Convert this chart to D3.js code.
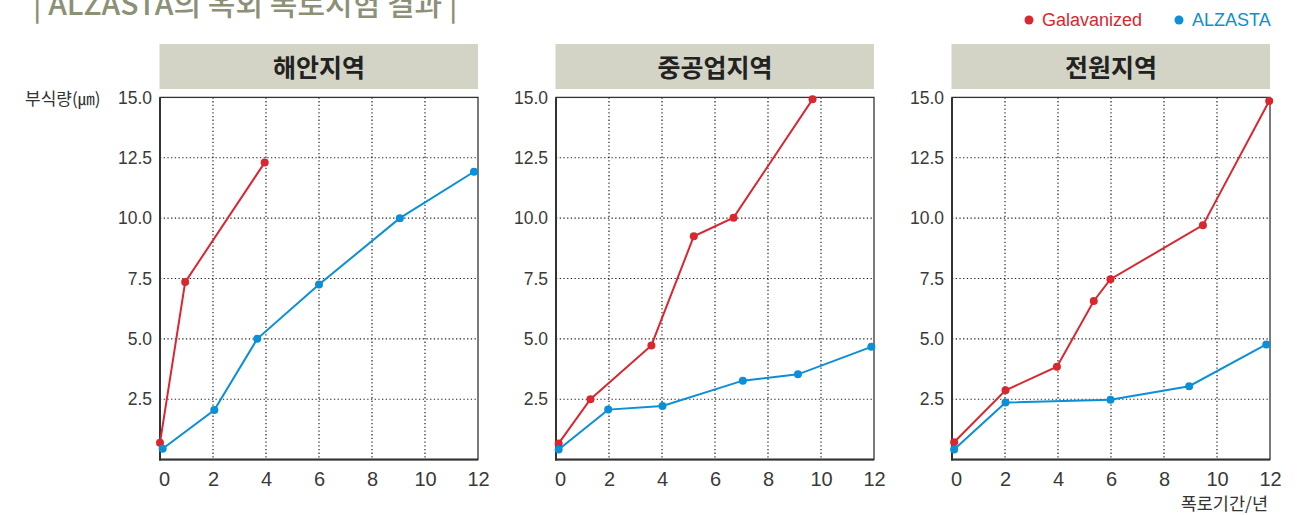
<!DOCTYPE html>
<html><head><meta charset="utf-8">
<script src="https://cdn.jsdelivr.net/npm/d3@7/dist/d3.min.js"></script>
<style>
body{margin:0;background:#fff;}
svg{display:block;}
</style></head>
<body>
<svg id="chart" width="1313" height="515"></svg>
<script>
const panelTitles = ["해안지역", "중공업지역", "전원지역"];
const xTicks = [0, 2, 4, 6, 8, 10, 12];
const yTicks = [2.5, 5.0, 7.5, 10.0, 12.5, 15.0];
const seriesNames = ["Galavanized", "ALZASTA"];

// [year, corrosion µm]
const galvCoastal = [[0,0.7],[0.95,7.35],[3.95,12.3]];
const alzCoastal = [[0.1,0.45],[2.05,2.05],[3.67,5.0],[6.0,7.25],[9.05,10.0],[11.85,11.92]];
const galvIndustrial = [[0.1,0.67],[1.3,2.5],[3.6,4.73],[5.2,9.25],[6.7,10.02],[9.68,14.92]];
const alzIndustrial = [[0.1,0.42],[1.97,2.07],[4.02,2.22],[7.05,3.27],[9.13,3.53],[11.9,4.67]];
const galvRural = [[0.08,0.72],[2.02,2.87],[3.96,3.85],[5.35,6.57],[5.98,7.47],[9.47,9.71],[11.97,14.85]];
const alzRural = [[0.08,0.42],[2.02,2.36],[5.98,2.48],[8.95,3.04],[11.86,4.77]];

const panelData = [
  [galvCoastal, alzCoastal],
  [galvIndustrial, alzIndustrial],
  [galvRural, alzRural]
];
const colors = ["#d9272f", "#0b8fd6"];
const numFont = "'Liberation Sans', Arial, sans-serif";
const krFont = "'Noto Sans CJK KR', 'Noto Sans', sans-serif";

const svg = d3.select("#chart");

// Title (cut at top, as in the reference)
svg.append("text").attr("x", 33).attr("y", 15)
  .attr("font-family", krFont).attr("font-size", 30).attr("font-weight", 500)
  .attr("fill", "#8b9077").text("| ALZASTA의 옥외 폭로시험 결과 |");

// Legend
const legend = [{x:1029, name:seriesNames[0], c:colors[0]},{x:1179, name:seriesNames[1], c:colors[1]}];
legend.forEach(l => {
  svg.append("circle").attr("cx", l.x).attr("cy", 20).attr("r", 4.5).attr("fill", l.c);
  svg.append("text").attr("x", l.x + 13).attr("y", 26).attr("font-family", numFont)
    .attr("font-size", 18).attr("fill", l.c).text(l.name);
});

const panelLefts = [160, 556, 952];
const pw = 318, plotTop = 97.4, plotBottom = 459.6;

panelLefts.forEach((left, i) => {
  const x = d3.scaleLinear().domain([0, 12]).range([left, left + pw]);
  const y = d3.scaleLinear().domain([0, 15]).range([plotBottom, plotTop]);
  const g = svg.append("g");

  // header
  g.append("rect").attr("x", left - 0.5).attr("y", 44).attr("width", pw + 0.5).attr("height", 45).attr("fill", "#d3d4c5");
  g.append("text").attr("x", left + pw / 2).attr("y", 77).attr("text-anchor", "middle")
    .attr("font-family", krFont).attr("font-size", 25).attr("font-weight", 700).attr("fill", "#222")
    .text(panelTitles[i]);

  // grid
  g.append("g").selectAll("line").data(xTicks.filter(t => t > 0 && t < 12)).join("line")
    .attr("x1", d => x(d)).attr("x2", d => x(d)).attr("y1", plotTop).attr("y2", plotBottom)
    .attr("stroke", "#222").attr("stroke-width", 1.2).attr("stroke-dasharray", "1.3,2.4");
  g.append("g").selectAll("line").data(yTicks.filter(t => t < 15)).join("line")
    .attr("x1", left).attr("x2", left + pw).attr("y1", d => y(d)).attr("y2", d => y(d))
    .attr("stroke", "#222").attr("stroke-width", 1.2).attr("stroke-dasharray", "1.3,2.4");

  // frame
  g.append("rect").attr("x", left).attr("y", plotTop).attr("width", pw).attr("height", plotBottom - plotTop)
    .attr("fill", "none").attr("stroke", "#333").attr("stroke-width", 1.3);
  g.append("line").attr("x1", left).attr("x2", left).attr("y1", plotTop).attr("y2", plotBottom + 1)
    .attr("stroke", "#333").attr("stroke-width", 2);
  g.append("line").attr("x1", left - 1).attr("x2", left + pw).attr("y1", plotBottom).attr("y2", plotBottom)
    .attr("stroke", "#333").attr("stroke-width", 2);

  // axes via d3
  const yAxis = d3.axisLeft(y).tickValues(yTicks).tickSize(0).tickPadding(8).tickFormat(d3.format(".1f"));
  const ya = g.append("g").attr("transform", `translate(${left},0)`).call(yAxis);
  ya.select(".domain").remove();
  ya.selectAll("text").attr("font-family", numFont).attr("font-size", 17.5).attr("fill", "#3a3a3a");

  const xAxis = d3.axisBottom(x).tickValues(xTicks).tickSize(0).tickPadding(12).tickFormat(d3.format("d"));
  const xa = g.append("g").attr("transform", `translate(0,${plotBottom})`).call(xAxis);
  xa.select(".domain").remove();
  xa.selectAll("text").attr("font-family", numFont).attr("font-size", 20).attr("fill", "#3a3a3a")
    .attr("dx", d => d === 0 ? 4 : 0);

  // series
  const line = d3.line().x(d => x(d[0])).y(d => y(d[1]));
  panelData[i].forEach((s, si) => {
    g.append("path").datum(s).attr("d", line).attr("fill", "none")
      .attr("stroke", colors[si]).attr("stroke-width", 2);
    g.append("g").selectAll("circle").data(s).join("circle")
      .attr("cx", d => x(d[0])).attr("cy", d => y(d[1])).attr("r", 4).attr("fill", colors[si]);
  });
});

// y label
svg.append("text").attr("x", 25).attr("y", 105).attr("font-family", krFont)
  .attr("font-size", 17).attr("fill", "#333").text("부식량(㎛)");
// x label
svg.append("text").attr("x", 1268).attr("y", 510).attr("text-anchor", "end").attr("font-family", krFont)
  .attr("font-size", 17.5).attr("fill", "#333").text("폭로기간/년");
</script>
</body></html>
